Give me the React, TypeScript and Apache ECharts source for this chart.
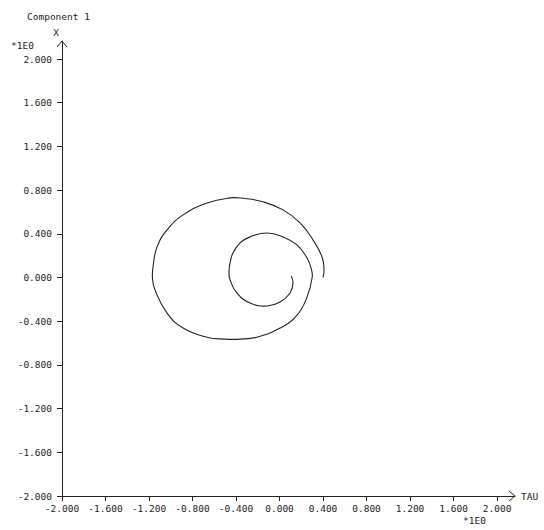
import React, { useEffect, useRef } from "react";
import * as echarts from "echarts";

const title = "Component 1";
const xName = "TAU";
const yName = "X";
const scaleLabel = "*1E0";
const tickValues = [-2, -1.6, -1.2, -0.8, -0.4, 0, 0.4, 0.8, 1.2, 1.6, 2];
const tauValues = [
  0.4, 0.409, 0.391, 0.308, 0.189, 0.032, -0.152, -0.33, -0.455, -0.667, -0.887, -1.034, -1.126,
  -1.163, -1.168, -1.145, -1.034, -0.887, -0.667, -0.501, -0.363, -0.207, 0.005, 0.161, 0.253,
  0.3, 0.292, 0.253, 0.161, 0.032, -0.115, -0.271, -0.363, -0.43, -0.455, -0.464, -0.455, -0.391,
  -0.271, -0.115, 0.005, 0.097, 0.124, 0.106,
];
const xValues = [
  0.0, 0.069, 0.188, 0.344, 0.5, 0.619, 0.693, 0.725, 0.729, 0.683, 0.573, 0.436, 0.28, 0.096,
  -0.01, -0.115, -0.326, -0.463, -0.546, -0.564, -0.564, -0.546, -0.463, -0.344, -0.179, 0.0, 0.08,
  0.179, 0.298, 0.372, 0.408, 0.372, 0.317, 0.22, 0.133, 0.06, -0.023, -0.142, -0.234, -0.261,
  -0.225, -0.142, -0.05, 0.014,
];

const AXIS_MIN = -2;
const AXIS_MAX = 2.165;
const FONT = "DejaVu Sans Mono";
const INK = "#222";

export default function App() {
  const ref = useRef<HTMLDivElement>(null);
  useEffect(() => {
    if (!ref.current) return;
    const chart = echarts.init(ref.current, null, { renderer: "svg" });
    const textStyle = { fontFamily: FONT, fontSize: 9.5, color: INK };
    const axisCommon = {
      type: "value" as const,
      min: AXIS_MIN,
      max: AXIS_MAX,
      splitLine: { show: false },
      axisLine: { show: true, onZero: false, lineStyle: { color: INK, width: 1 } },
      axisTick: { show: true, length: 5, customValues: tickValues, lineStyle: { color: INK } },
    };
    const points = tauValues.map((t, i) => [t, xValues[i]]);
    chart.setOption({
      animation: false,
      backgroundColor: "#fff",
      title: {
        text: title,
        left: 22,
        top: 6,
        textStyle: { fontFamily: FONT, fontSize: 9.5, fontWeight: "normal", color: INK },
      },
      grid: { left: 62, right: 29, top: 41, bottom: 34 },
      xAxis: {
        ...axisCommon,
        name: xName,
        nameLocation: "end",
        nameGap: 6,
        nameTextStyle: { ...textStyle, align: "left", verticalAlign: "middle" },
        axisLabel: {
          customValues: tickValues,
          margin: 7,
          formatter: (v: number) => v.toFixed(3),
          ...textStyle,
        },
      },
      yAxis: {
        ...axisCommon,
        name: yName,
        nameLocation: "end",
        nameGap: 4,
        nameTextStyle: { ...textStyle, padding: [0, 12, 0, 0] },
        axisLabel: {
          customValues: tickValues,
          margin: 10,
          formatter: (v: number) => v.toFixed(3),
          ...textStyle,
        },
      },
      series: [
        {
          type: "custom",
          data: [points[0]],
          encode: { x: 0, y: 1 },
          clip: false,
          renderItem: (_params: any, api: any) => ({
            type: "polyline",
            shape: {
              points: points.map((p) => api.coord(p)),
              smooth: 0.45,
            },
            style: { stroke: INK, lineWidth: 1.1, fill: null },
            silent: true,
          }),
        },
      ],
    });

    const xTip = chart.convertToPixel({ gridIndex: 0 }, [AXIS_MAX, AXIS_MIN]) as number[];
    const yTip = chart.convertToPixel({ gridIndex: 0 }, [AXIS_MIN, AXIS_MAX]) as number[];
    const x2 = chart.convertToPixel({ gridIndex: 0 }, [2, AXIS_MIN]) as number[];
    chart.setOption({
      graphic: [
        {
          type: "polyline",
          shape: { points: [[xTip[0] - 6, xTip[1] - 5], [xTip[0], xTip[1]], [xTip[0] - 6, xTip[1] + 5]] },
          style: { stroke: INK, lineWidth: 1, fill: null },
        },
        {
          type: "polyline",
          shape: { points: [[yTip[0] - 5, yTip[1] + 6], [yTip[0], yTip[1]], [yTip[0] + 5, yTip[1] + 6]] },
          style: { stroke: INK, lineWidth: 1, fill: null },
        },
        {
          type: "text",
          x: yTip[0] - 51,
          y: yTip[1] + 4,
          style: { text: scaleLabel, font: `9.5px "${FONT}"`, fill: INK, textVerticalAlign: "middle" },
        },
        {
          type: "text",
          x: x2[0] - 34,
          y: x2[1] + 24,
          style: { text: scaleLabel, font: `9.5px "${FONT}"`, fill: INK, textVerticalAlign: "middle" },
        },
      ],
    });
    return () => chart.dispose();
  }, []);
  return <div ref={ref} style={{ position: "fixed", left: 0, top: 0, width: 544, height: 530 }} />;
}
